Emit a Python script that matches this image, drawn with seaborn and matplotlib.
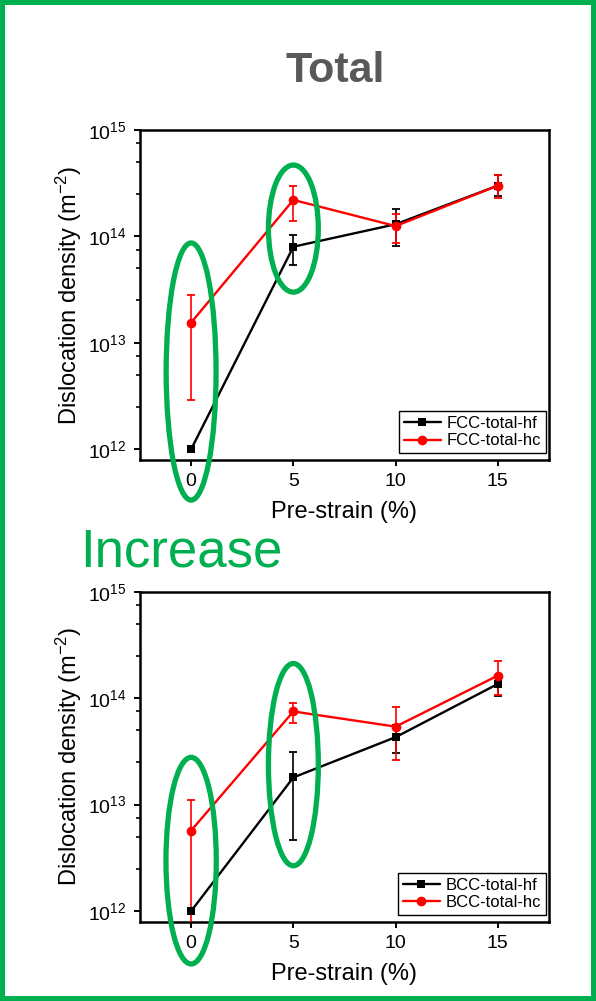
import numpy as np
import matplotlib
matplotlib.use("Agg")
import matplotlib.pyplot as plt
from matplotlib.patches import Ellipse
from matplotlib.ticker import LogLocator, NullFormatter, MultipleLocator
import seaborn as sns

# ---- data -------------------------------------------------------------
strain = [0, 5, 10, 15]

fcc_hf = [1.0e12, 8.0e13, 1.3e14, 3.0e14]
fcc_hf_lo = [1.0e12, 5.4e13, 8.2e13, 2.4e14]
fcc_hf_hi = [1.0e12, 1.04e14, 1.82e14, 3.8e14]

fcc_hc = [1.55e13, 2.2e14, 1.25e14, 3.0e14]
fcc_hc_lo = [2.9e12, 1.4e14, 8.7e13, 2.3e14]
fcc_hc_hi = [2.8e13, 3.0e14, 1.61e14, 3.8e14]

bcc_hf = [1.0e12, 1.8e13, 4.3e13, 1.36e14]
bcc_hf_lo = [1.0e12, 4.7e12, 3.05e13, 1.05e14]
bcc_hf_hi = [1.0e12, 3.1e13, 5.6e13, 1.66e14]

bcc_hc = [5.7e12, 7.5e13, 5.4e13, 1.63e14]
bcc_hc_lo = [3.0e11, 5.9e13, 2.6e13, 1.07e14]
bcc_hc_hi = [1.11e13, 9.1e13, 8.2e13, 2.24e14]

labels_top = ["FCC-total-hf", "FCC-total-hc"]
labels_bot = ["BCC-total-hf", "BCC-total-hc"]

GREEN = "#00B050"

# ---- style ------------------------------------------------------------
sns.set_style("ticks")
plt.rcParams["font.family"] = ["Liberation Sans", "DejaVu Sans"]
plt.rcParams["mathtext.default"] = "regular"
plt.rcParams["axes.unicode_minus"] = False
plt.rcParams["text.color"] = "black"
plt.rcParams["axes.labelcolor"] = "black"
plt.rcParams["xtick.color"] = "black"
plt.rcParams["ytick.color"] = "black"

fig = plt.figure(figsize=(5.96, 10.01), dpi=100)
fig.patch.set_facecolor("white")

ax_top = fig.add_axes([0.2349, 0.5405, 0.6862, 0.3297])
ax_bot = fig.add_axes([0.2349, 0.0792, 0.6862, 0.3297])


def draw_series(ax, y, lo, hi, color, marker, ms, label):
    y = np.asarray(y)
    err = [y - np.asarray(lo), np.asarray(hi) - y]
    ax.errorbar(strain, y, yerr=err, fmt="none", ecolor=color,
                elinewidth=1.2, capsize=2.6, capthick=1.3, zorder=3)
    sns.lineplot(x=strain, y=y, ax=ax, color=color, lw=1.7,
                 marker=marker, markersize=ms, markeredgewidth=0,
                 label=label, zorder=4)


def style_axes(ax):
    ax.set_yscale("log")
    ax.set_ylim(7.94e11, 1e15)
    ax.set_xlim(-2.5, 17.5)
    ax.xaxis.set_major_locator(MultipleLocator(5))
    ax.yaxis.set_major_locator(LogLocator(base=10, numticks=10))
    ax.yaxis.set_minor_locator(LogLocator(base=10, subs=[2.5, 5.0, 7.5], numticks=10))
    ax.yaxis.set_minor_formatter(NullFormatter())
    for sp in ax.spines.values():
        sp.set_visible(True)
        sp.set_linewidth(1.8)
        sp.set_color("black")
    ax.tick_params(axis="both", which="major", direction="out", length=4.5,
                   width=1.4, labelsize=14, pad=5, colors="black")
    ax.tick_params(axis="y", which="minor", direction="out", length=2.8,
                   width=1.2, color="black")
    ax.tick_params(axis="x", which="minor", bottom=False)
    ax.set_xlabel("Pre-strain (%)", fontsize=17, color="black")
    ax.set_ylabel("Dislocation density (m$^{-2}$)", fontsize=17, color="black")
    ax.xaxis.set_label_coords(0.5, -0.125)
    ax.yaxis.set_label_coords(-0.138, 0.5)
    ax.grid(False)
    leg = ax.legend(loc="lower right", bbox_to_anchor=(0.993, 0.02),
                    borderaxespad=0.0, fontsize=12, frameon=True,
                    fancybox=False, framealpha=1, edgecolor="black",
                    handlelength=2.2, handletextpad=0.35, labelspacing=0.15,
                    borderpad=0.3)
    leg.get_frame().set_linewidth(1.0)
    for t in leg.get_texts():
        t.set_color("black")


def ring(ax, xc, yc, w, h):
    ax.add_patch(Ellipse((xc, yc), width=w, height=h,
                         transform=ax.get_xaxis_transform(), fill=False,
                         edgecolor=GREEN, lw=3.8, clip_on=False, zorder=6))


# top panel: FCC
draw_series(ax_top, fcc_hf, fcc_hf_lo, fcc_hf_hi, "black", "s", 6, labels_top[0])
draw_series(ax_top, fcc_hc, fcc_hc_lo, fcc_hc_hi, "#FF0000", "o", 7, labels_top[1])
style_axes(ax_top)
ring(ax_top, strain[0], 0.268, 2.44, 0.779)
ring(ax_top, strain[1], 0.701, 2.44, 0.385)

# bottom panel: BCC
draw_series(ax_bot, bcc_hf, bcc_hf_lo, bcc_hf_hi, "black", "s", 6, labels_bot[0])
draw_series(ax_bot, bcc_hc, bcc_hc_lo, bcc_hc_hi, "#FF0000", "o", 7, labels_bot[1])
style_axes(ax_bot)
ring(ax_bot, strain[0], 0.185, 2.46, 0.626)
ring(ax_bot, strain[1], 0.476, 2.44, 0.613)

# headings
fig.text(335 / 596, 1 - 82 / 1001, "Total", ha="center", va="baseline",
         fontsize=31, fontweight="bold", color="#595959")
fig.text(80 / 596, 1 - 566.5 / 1001, "Increase", ha="left", va="baseline",
         fontsize=38, color=GREEN)

# green outer frame
fig.patch.set_edgecolor(GREEN)
fig.patch.set_linewidth(7.2)

fig.savefig("out.png", dpi=100, facecolor=fig.get_facecolor(),
            edgecolor=fig.get_edgecolor())
